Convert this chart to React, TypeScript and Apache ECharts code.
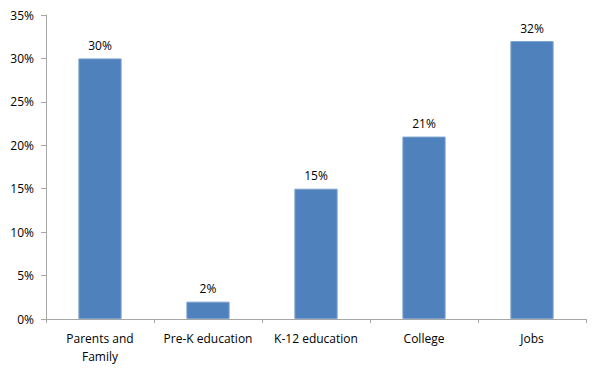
import React, { useEffect, useRef } from "react";
import * as echarts from "echarts";

const categories = ["Parents and\nFamily", "Pre-K education", "K-12 education", "College", "Jobs"];
const values = [30, 2, 15, 21, 32];
const yTicks = [0, 5, 10, 15, 20, 25, 30, 35];

export default function App() {
  const ref = useRef<HTMLDivElement>(null);
  useEffect(() => {
    const chart = echarts.init(ref.current!, null, { renderer: "svg" });
    const font = "Open Sans";
    chart.setOption({
      animation: false,
      grid: { left: 46, right: 14, top: 15, bottom: 52, containLabel: false },
      xAxis: {
        type: "category",
        data: categories,
        axisLine: { lineStyle: { color: "#A6A6A6", width: 1 } },
        axisTick: { show: true, length: 4, lineStyle: { color: "#A6A6A6" } },
        axisLabel: { color: "#000", fontSize: 12, fontFamily: font, margin: 10, lineHeight: 18, interval: 0 },
      },
      yAxis: {
        type: "value",
        min: yTicks[0],
        max: yTicks[yTicks.length - 1],
        interval: 5,
        splitLine: { show: false },
        axisLine: { show: true, lineStyle: { color: "#A6A6A6", width: 1 } },
        axisTick: { show: true, length: 5, lineStyle: { color: "#A6A6A6" } },
        axisLabel: { color: "#000", fontSize: 12, fontFamily: font, margin: 12, formatter: (v: number) => v + "%" },
      },
      series: [
        {
          type: "bar",
          data: values,
          barWidth: "40%",
          itemStyle: { color: "#4F81BD", borderColor: "#7BA0D0", borderWidth: 1 },
          label: {
            show: true,
            position: "top",
            distance: 7,
            color: "#000",
            fontSize: 12,
            fontFamily: font,
            formatter: (p: any) => p.value + "%",
          },
        },
      ],
    });
    return () => chart.dispose();
  }, []);
  return <div ref={ref} style={{ width: 600, height: 371, position: "absolute", left: 0, top: 0, background: "#fff" }} />;
}
